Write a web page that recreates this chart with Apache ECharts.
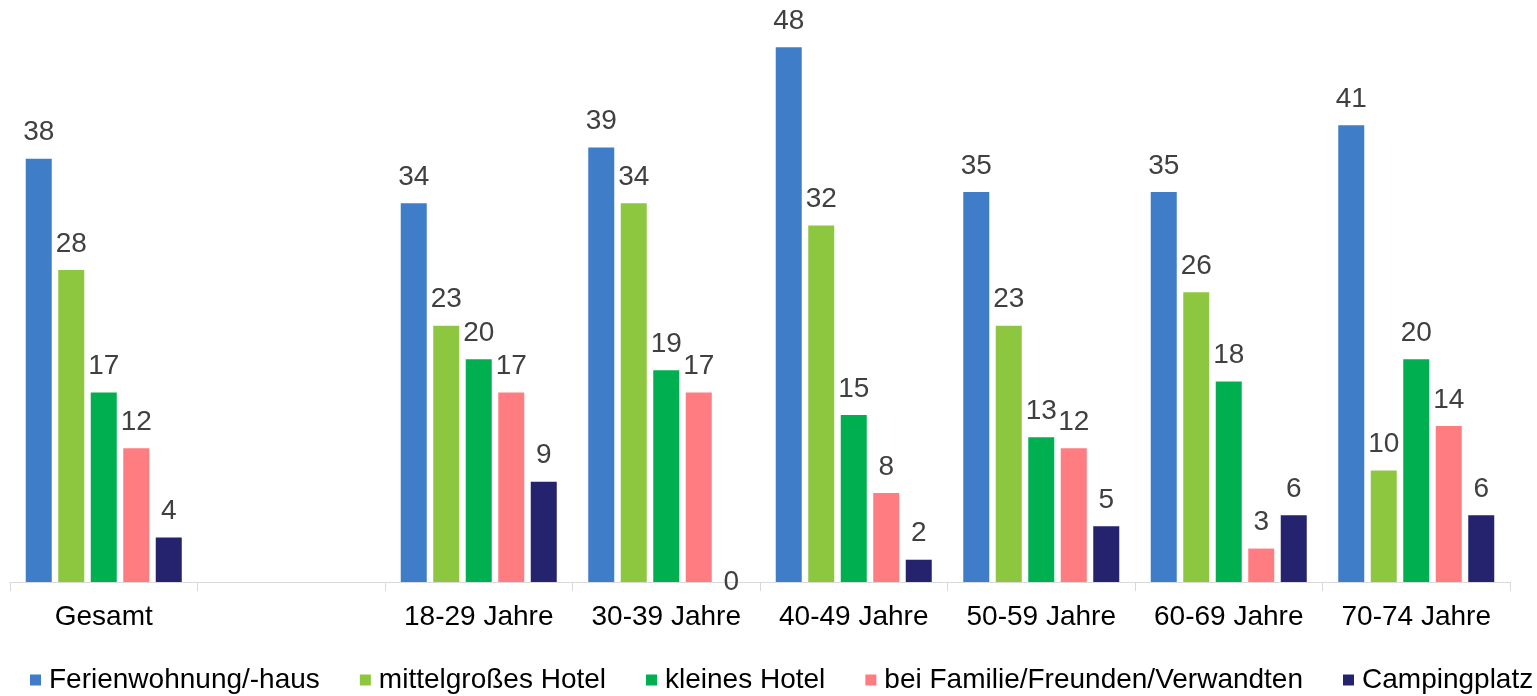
<!DOCTYPE html>
<html><head><meta charset="utf-8">
<script src="https://cdn.jsdelivr.net/npm/echarts@6/dist/echarts.min.js"></script>
<style>html,body{margin:0;padding:0;background:#fff}#c{width:1537px;height:696px}</style>
</head><body><div id="c"></div>
<script>
const categories = ['Gesamt', '', '18-29 Jahre', '30-39 Jahre', '40-49 Jahre', '50-59 Jahre', '60-69 Jahre', '70-74 Jahre'];
const seriesNames = ['Ferienwohnung/-haus', 'mittelgroßes Hotel', 'kleines Hotel', 'bei Familie/Freunden/Verwandten', 'Campingplatz'];
const ferienwohnung = [38, null, 34, 39, 48, 35, 35, 41];
const mittelHotel = [28, null, 23, 34, 32, 23, 26, 10];
const kleinesHotel = [17, null, 20, 19, 15, 13, 18, 20];
const familie = [12, null, 17, 17, 8, 12, 3, 14];
const camping = [4, null, 9, 0, 2, 5, 6, 6];
const colors = ['#3F7DC9', '#8DC63F', '#00B050', '#FF7C80', '#25226E'];

const values = [ferienwohnung, mittelHotel, kleinesHotel, familie, camping];
const FONT = '"Liberation Sans", Arial, sans-serif';
const chart = echarts.init(document.getElementById('c'), null, {renderer: 'canvas'});
chart.setOption({
  animation: false,
  color: colors,
  grid: {left: 10, right: 27, top: 25, bottom: 114, containLabel: false},
  legend: {
    bottom: -3, left: 30, width: 1507, padding: [5, 0, 5, 0], itemWidth: 11, itemHeight: 11, itemGap: 40,
    icon: 'rect',
    textStyle: {fontFamily: FONT, fontSize: 28, color: '#000', padding: [0, 0, 0, 3]},
    data: seriesNames
  },
  xAxis: {
    type: 'category', data: categories,
    axisLine: {lineStyle: {color: '#d9d9d9', width: 1}},
    axisTick: {show: true, length: 9, lineStyle: {color: '#d9d9d9'}},
    axisLabel: {fontFamily: FONT, fontSize: 28, color: '#000', margin: 21, interval: 0}
  },
  yAxis: {type: 'value', min: 0, max: 50, show: false, splitLine: {show: false}},
  series: values.map((v, i) => ({
    name: seriesNames[i], type: 'bar',
    data: v.map(x => x === 0 ? {value: 0, label: {position: 'inside', color: '#404040'}} : x),
    barWidth: 26, barGap: '25%',
    label: {show: true, position: 'top', distance: 12, fontFamily: FONT, fontSize: 28, color: '#404040'}
  }))
});
</script></body></html>
